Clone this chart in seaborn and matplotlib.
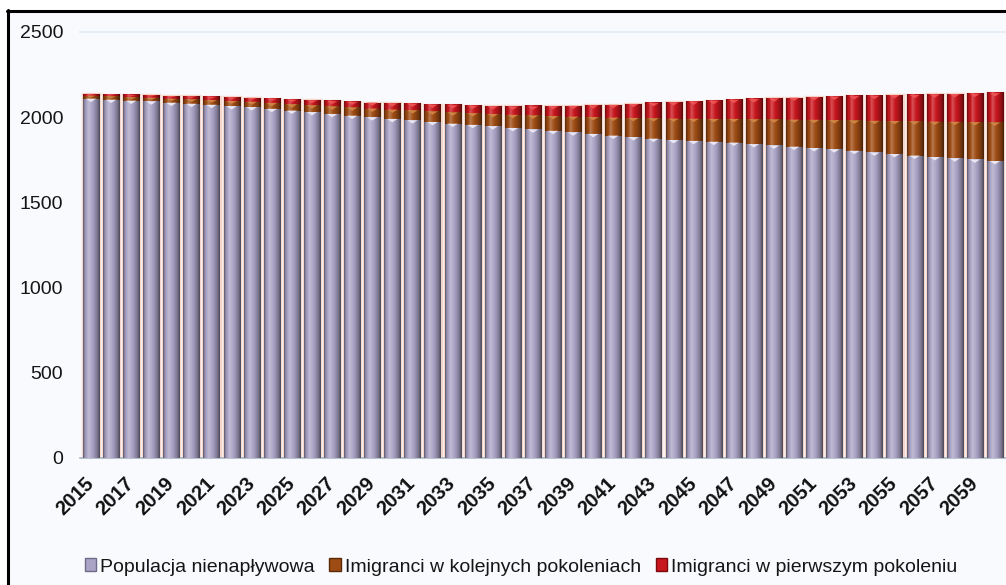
import numpy as np
import pandas as pd
import seaborn as sns
import matplotlib.pyplot as plt
import matplotlib.transforms as mtransforms
from matplotlib.patches import Polygon, Rectangle, Patch
from matplotlib.lines import Line2D
from matplotlib.colors import to_rgb

# Population projection (thousands), 2015-2060
years = list(range(2015, 2061))
native = [2109, 2103, 2097, 2093, 2085, 2079, 2073, 2065, 2059, 2049,
          2039, 2030, 2019, 2009, 2000, 1990, 1982, 1972, 1962, 1955,
          1947, 1937, 1928, 1920, 1911, 1902, 1892, 1883, 1874, 1866,
          1861, 1856, 1851, 1842, 1834, 1827, 1819, 1812, 1803, 1793,
          1784, 1775, 1766, 1759, 1752, 1743]
later_gen = [18, 19, 20, 22, 24, 26, 28, 30, 32, 35,
             37, 40, 44, 48, 51, 55, 59, 62, 66, 69,
             72, 77, 82, 87, 93, 99, 106, 113, 120, 126,
             130, 134, 139, 146, 153, 159, 166, 171, 178, 186,
             194, 201, 208, 214, 219, 226]
first_gen = [10, 11, 12, 14, 15, 17, 19, 21, 23, 25,
             27, 29, 31, 33, 35, 37, 39, 40, 42, 44,
             46, 49, 53, 58, 63, 69, 75, 82, 89, 96,
             101, 106, 112, 118, 123, 129, 134, 138, 143, 147,
             152, 155, 160, 163, 167, 172]

labels = ["Populacja nienapływowa", "Imigranci w kolejnych pokoleniach",
          "Imigranci w pierwszym pokoleniu"]
colors = ["#ABA4C6", "#9E4C14", "#C8161E"]
top_light = ["#F4F2FB", "#D88A48", "#F25A5A"]
y_ticks = [0, 500, 1000, 1500, 2000, 2500]

df = pd.DataFrame({"rok": [str(y) for y in years],
                   "native": native, "later": later_gen, "first": first_gen})
df["lvl1"] = df["native"]
df["lvl2"] = df["lvl1"] + df["later"]
df["lvl3"] = df["lvl2"] + df["first"]

sns.set_theme(style="white")
plt.rcParams["font.family"] = ["Liberation Sans", "DejaVu Sans"]

W, H = 1006, 585
fig = plt.figure(figsize=(W / 100, H / 100), dpi=100, facecolor="white")

# framed chart area
fig.add_artist(Rectangle((8 / W, 0), 1, 1 - 11 / H, transform=fig.transFigure,
                         facecolor="#F8FAFD", edgecolor="none", zorder=0))
fig.add_artist(Line2D([7.5 / W, 7.5 / W], [0, 1 - 9.5 / H], color="black",
                      lw=2.2, transform=fig.transFigure, zorder=1))
fig.add_artist(Line2D([6.5 / W, 1], [1 - 10.5 / H, 1 - 10.5 / H], color="black",
                      lw=2.2, transform=fig.transFigure, zorder=1))

ax = fig.add_axes([80 / W, 1 - 458 / H, (W - 80) / W, (458 - 32) / H])
ax.set_facecolor("none")

# stacked bars: draw cumulative totals from the top layer down
layers = []
for col, c, ec, lw in [("lvl3", colors[2], "#F4D6CB", 2.4),
                       ("lvl2", colors[1], "none", 0),
                       ("lvl1", colors[0], "none", 0)]:
    n_before = len(ax.patches)
    sns.barplot(data=df, x="rok", y=col, color=c, width=0.8, errorbar=None,
                saturation=1, edgecolor=ec, linewidth=lw, ax=ax, zorder=2)
    layers.append(list(ax.patches[n_before:]))
red_bars, brown_bars, purple_bars = layers

# cylinder-like horizontal shading profile
tpos = np.linspace(0, 1, 40)
shade = np.interp(tpos, [0, 0.1, 0.32, 0.6, 0.85, 1.0],
                  [0.55, 0.88, 1.12, 0.97, 0.72, 0.45])


def shaded(color):
    c = np.array(to_rgb(color))
    img = np.empty((1, len(tpos), 3))
    for i, f in enumerate(shade):
        if f >= 1:
            img[0, i] = c + (1 - c) * (f - 1) * 2.2
        else:
            img[0, i] = c * f
    return np.clip(img, 0, 1)


segments = [
    (purple_bars, [None] * len(purple_bars), colors[0], top_light[0]),
    (brown_bars, purple_bars, colors[1], top_light[1]),
    (red_bars, brown_bars, colors[2], top_light[2]),
]
for bars, below, col, light in segments:
    img = shaded(col)
    for p, b in zip(bars, below):
        x0, w = p.get_x(), p.get_width()
        top = p.get_y() + p.get_height()
        bottom = 0 if b is None else b.get_y() + b.get_height()
        ax.imshow(img, extent=(x0, x0 + w, bottom, top), aspect="auto",
                  interpolation="bilinear", zorder=3)
        th = min(20, (top - bottom) * 0.55)
        ax.add_patch(Polygon([(x0 + 0.18 * w, top), (x0 + 0.82 * w, top),
                              (x0 + 0.5 * w, top - th)], closed=True,
                             facecolor=light, edgecolor="none", alpha=0.85,
                             zorder=4))

ax.set_xlim(-0.548, 45.55)
ax.set_ylim(0, 2500)
ax.set_xlabel("")
ax.set_ylabel("")

ax.set_yticks(y_ticks)
ax.set_yticklabels([str(v) for v in y_ticks], fontsize=14, color="#151515")
tick_pos = list(range(0, len(years) - 1, 2))
ax.set_xticks(tick_pos)
ax.set_xticklabels([str(years[i]) for i in tick_pos], rotation=45,
                   ha="right", va="center", rotation_mode="anchor",
                   fontsize=14.5, fontweight="bold", color="#111111")
shift = mtransforms.ScaledTranslation(4 / 100, 0, fig.dpi_scale_trans)
for lab in ax.get_xticklabels():
    lab.set_transform(lab.get_transform() + shift)
ax.tick_params(axis="y", length=0, pad=12)
ax.tick_params(axis="x", length=0, pad=16)

for s in ["left", "right"]:
    ax.spines[s].set_visible(False)
ax.spines["bottom"].set_color("#A9B6C4")
ax.spines["bottom"].set_linewidth(1.2)
ax.spines["top"].set_color("#E3EAF3")
ax.spines["top"].set_linewidth(1.2)

handles = [Patch(facecolor=c, edgecolor=ec, linewidth=1.0)
           for c, ec in zip(colors, ["#6F6A8A", "#5A2A08", "#7A0A0E"])]
fig.legend(handles, labels, loc="center", bbox_to_anchor=(0.518, 1 - 567 / H),
           ncol=3, frameon=False, fontsize=14, handlelength=0.6,
           handleheight=0.6, handletextpad=0.2, columnspacing=0.75,
           labelcolor="#151515")

fig.savefig("out.png", dpi=100, facecolor="white")
